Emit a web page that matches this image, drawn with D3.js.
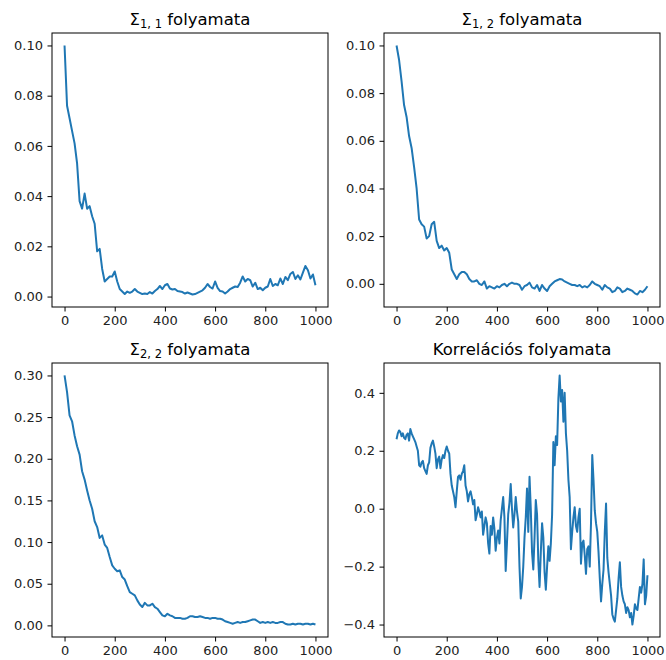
<!DOCTYPE html>
<html lang="hu">
<head>
  <meta charset="utf-8">
  <title>Folyamatok</title>
  <script src="https://d3js.org/d3.v7.min.js"></script>
  <style>
    body { margin: 0; background: #fff; }
    .abra text { font-family: "DejaVu Sans", sans-serif; fill: #000; }
    .abra .tick text { font-size: 13px; fill: #222; }
    .abra .cim { font-size: 16.5px; text-anchor: middle; }
  </style>
</head>
<body>
<div id="chart"></div>
<script>
"use strict"

// lepesek (x tengely)
var lepes10 = d3.range(0, 1001, 10);
var lepes5 = d3.range(0, 1001, 5);
var xTicks = [0, 200, 400, 600, 800, 1000];

// Sigma_{1,1}, 10-es lepesenkent
var sigma11 = [
  0.100, 0.076, 0.071, 0.066, 0.061, 0.053, 0.038, 0.035, 0.041, 0.035,
  0.036, 0.032, 0.029, 0.018, 0.019, 0.011, 0.006, 0.007, 0.008, 0.008,
  0.010, 0.006, 0.003, 0.002, 0.001, 0.002, 0.0015, 0.002, 0.003, 0.002,
  0.0015, 0.001, 0.0012, 0.001, 0.0018, 0.0012, 0.0022, 0.003, 0.0042, 0.003,
  0.0045, 0.005, 0.0032, 0.0028, 0.003, 0.0022, 0.002, 0.0018, 0.0012, 0.0016,
  0.0012, 0.0008, 0.001, 0.0015, 0.002, 0.0025, 0.0035, 0.005, 0.0038, 0.0032,
  0.006, 0.0035, 0.0022, 0.002, 0.0012, 0.002, 0.003, 0.0035, 0.004, 0.0038,
  0.0055, 0.008, 0.006, 0.007, 0.0065, 0.004, 0.0055, 0.003, 0.0035, 0.0025,
  0.0035, 0.004, 0.007, 0.0042, 0.005, 0.0045, 0.0072, 0.005, 0.0078, 0.0065,
  0.009, 0.0098, 0.007, 0.0085, 0.0068, 0.0095, 0.0122, 0.0105, 0.0072, 0.0088,
  0.0045
];

// Sigma_{1,2}
var sigma12 = [
  0.100, 0.094, 0.085, 0.075, 0.070, 0.062, 0.057, 0.049, 0.040, 0.027,
  0.025, 0.024, 0.019, 0.020, 0.025, 0.026, 0.018, 0.015, 0.016, 0.014,
  0.015, 0.013, 0.006, 0.004, 0.002, 0.004, 0.005, 0.005, 0.004, 0.002,
  0.001, 0.001, 0.0015, 0.0, -0.0005, 0.001, -0.002, -0.001, -0.0015, -0.002,
  -0.001, -0.0015, -0.0005, 0.0, -0.001, 0.0, 0.0005, 0.0, 0.0, -0.0005,
  -0.0025, -0.001, -0.0005, 0.0005, -0.0015, -0.002, -0.0005, -0.003, -0.0005, -0.002,
  -0.003, -0.001, 0.0, 0.001, 0.0015, 0.002, 0.0018, 0.001, 0.0005, 0.0,
  -0.0005, -0.0005, -0.001, -0.0005, -0.0015, -0.001, -0.0015, -0.0005, 0.001, 0.0,
  -0.0005, -0.001, -0.0025, -0.0005, -0.0015, -0.002, -0.0035, -0.003, -0.0015, -0.002,
  -0.0035, -0.003, -0.002, -0.0025, -0.003, -0.004, -0.0045, -0.003, -0.0035, -0.0025,
  -0.001
];

// Sigma_{2,2}
var sigma22 = [
  0.300, 0.280, 0.252, 0.245, 0.228, 0.215, 0.205, 0.185, 0.175, 0.162,
  0.150, 0.140, 0.125, 0.118, 0.105, 0.108, 0.097, 0.093, 0.082, 0.072,
  0.068, 0.065, 0.066, 0.058, 0.055, 0.047, 0.040, 0.038, 0.036, 0.030,
  0.025, 0.022, 0.027, 0.024, 0.024, 0.026, 0.022, 0.020, 0.016, 0.012,
  0.011, 0.014, 0.012, 0.011, 0.009, 0.009, 0.009, 0.008, 0.008, 0.009,
  0.011, 0.011, 0.010, 0.010, 0.011, 0.010, 0.009, 0.009, 0.008, 0.009,
  0.009, 0.008, 0.008, 0.007, 0.005, 0.004, 0.003, 0.002, 0.003, 0.004,
  0.003, 0.004, 0.004, 0.005, 0.006, 0.007, 0.007, 0.005, 0.003, 0.004,
  0.003, 0.004, 0.003, 0.004, 0.003, 0.003, 0.004, 0.004, 0.002, 0.001,
  0.001, 0.002, 0.001, 0.002, 0.002, 0.001, 0.002, 0.002, 0.001, 0.002,
  0.001
];

// korrelacio, 5-os lepesenkent
var korrelacio = [
  0.24, 0.26, 0.27, 0.265, 0.25, 0.26, 0.245, 0.24, 0.255, 0.26, 0.235, 0.275, 0.26, 0.25, 0.24, 0.23, 0.215, 0.2, 0.15, 0.145,
  0.16, 0.165, 0.14, 0.13, 0.12, 0.15, 0.16, 0.21, 0.225, 0.235, 0.215, 0.19, 0.14, 0.17, 0.18, 0.14, 0.17, 0.185, 0.175, 0.2,
  0.215, 0.2, 0.19, 0.12, 0.08, 0.06, 0.04, 0.005, 0.06, 0.11, 0.115, 0.1, 0.12, 0.13, 0.15, 0.08, 0.06, 0.025, 0.05, 0.06,
  0.04, 0.015, 0.03, -0.04, -0.02, 0.005, -0.01, -0.03, -0.01, -0.09, -0.06, -0.03, -0.05, -0.12, -0.155, -0.06, -0.09, -0.03, -0.07, -0.145,
  -0.1, -0.075, -0.12, -0.04, 0.0, 0.04, -0.03, -0.215, -0.12, -0.02, 0.02, 0.085, 0.0, -0.065, -0.02, 0.04, -0.01, -0.045, -0.2, -0.31,
  -0.27, -0.2, -0.1, -0.03, 0.07, -0.08, 0.11, 0.0, -0.15, -0.21, -0.1, 0.03, -0.02, -0.18, -0.27, -0.15, -0.05, -0.1, -0.22, -0.28,
  -0.2, -0.13, -0.18, -0.12, -0.02, 0.23, 0.15, 0.25, 0.22, 0.38, 0.46, 0.37, 0.41, 0.3, 0.4, 0.26, 0.2, 0.1, 0.04, -0.14,
  -0.08, -0.03, 0.005, -0.06, -0.08, -0.03, 0.0, -0.19, -0.12, -0.11, -0.16, -0.225, -0.14, -0.13, -0.2, -0.05, 0.185, 0.1, -0.006, -0.05,
  -0.08, -0.15, -0.24, -0.32, -0.26, -0.21, -0.08, 0.018, -0.17, -0.22, -0.26, -0.3, -0.365, -0.38, -0.39, -0.35, -0.31, -0.24, -0.185, -0.27,
  -0.3, -0.32, -0.33, -0.36, -0.34, -0.35, -0.375, -0.36, -0.4, -0.37, -0.33, -0.345, -0.35, -0.31, -0.27, -0.29, -0.26, -0.175, -0.33, -0.3,
  -0.23
];

var yTicksSigma = [0, 0.02, 0.04, 0.06, 0.08, 0.10];
var yTicks22 = [0, 0.05, 0.10, 0.15, 0.20, 0.25, 0.30];
var yTicksKorr = [-0.4, -0.2, 0, 0.2, 0.4];

var szelesseg = 666, magassag = 660;
var panelW = 276, panelH = 274;

var panelek = [
  { cim: ["Σ", "1, 1", " folyamata"], bal: 52, fent: 33, x: lepes10, y: sigma11, ticks: yTicksSigma, fmt: ".2f" },
  { cim: ["Σ", "1, 2", " folyamata"], bal: 384, fent: 33, x: lepes10, y: sigma12, ticks: yTicksSigma, fmt: ".2f" },
  { cim: ["Σ", "2, 2", " folyamata"], bal: 52, fent: 363, x: lepes10, y: sigma22, ticks: yTicks22, fmt: ".2f" },
  { cim: ["Korrelációs folyamata"], bal: 384, fent: 363, x: lepes5, y: korrelacio, ticks: yTicksKorr, fmt: ".1f" }
];

var svg = d3.select('#chart')
  .append('svg')
    .attr('class', 'abra')
    .attr('width', szelesseg)
    .attr('height', magassag);

svg.append('rect').attr('width', szelesseg).attr('height', magassag).attr('fill', '#fff');

panelek.forEach(function(p) {
  var g = svg.append('g').attr('transform', 'translate(' + p.bal + ',' + p.fent + ')');

  // matplotlib-szeru 5%-os margo
  var xe = d3.extent(p.x), ye = d3.extent(p.y);
  var xm = (xe[1] - xe[0]) * 0.05, ym = (ye[1] - ye[0]) * 0.05;

  var x = d3.scaleLinear().domain([xe[0] - xm, xe[1] + xm]).range([0, panelW]);
  var y = d3.scaleLinear().domain([ye[0] - ym, ye[1] + ym]).range([panelH, 0]);

  var vonal = d3.line()
    .x(function(d, i) { return x(p.x[i]); })
    .y(function(d) { return y(d); });

  g.append('path')
    .datum(p.y)
    .attr('d', vonal)
    .attr('fill', 'none')
    .attr('stroke', '#1f77b4')
    .attr('stroke-width', 2)
    .attr('stroke-linejoin', 'round');

  var xt = g.append('g')
    .attr('transform', 'translate(0,' + panelH + ')')
    .call(d3.axisBottom(x).tickValues(xTicks).tickSize(4.5).tickPadding(4).tickFormat(d3.format('d')));

  var yt = g.append('g')
    .call(d3.axisLeft(y).tickValues(p.ticks).tickSize(4.5).tickPadding(4.5).tickFormat(d3.format(p.fmt)));

  [xt, yt].forEach(function(a) {
    a.select('.domain').remove();
    a.selectAll('.tick line').attr('stroke', '#000').attr('stroke-width', 1);
    a.selectAll('.tick text').attr('font-family', null).attr('font-size', null);
  });

  g.append('rect')
    .attr('width', panelW)
    .attr('height', panelH)
    .attr('fill', 'none')
    .attr('stroke', '#000')
    .attr('stroke-width', 1);

  var t = g.append('text')
    .attr('class', 'cim')
    .attr('x', panelW / 2)
    .attr('y', -8);

  if (p.cim.length === 1) {
    t.text(p.cim[0]);
  } else {
    t.append('tspan').text(p.cim[0]);
    t.append('tspan').attr('font-size', '11.5px').attr('dy', 3).text(p.cim[1]);
    t.append('tspan').attr('dy', -3).text(p.cim[2]);
  }
});
</script>
</body>
</html>
